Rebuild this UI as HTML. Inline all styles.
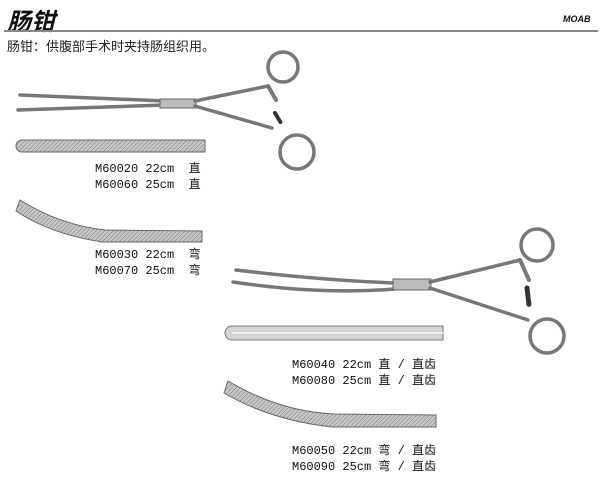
<!DOCTYPE html>
<html><head><meta charset="utf-8"><style>
html,body{margin:0;padding:0;background:#fff;}
body{width:600px;height:481px;overflow:hidden;position:relative;font-family:"Liberation Sans","Noto Sans CJK SC",sans-serif;}
.t{position:absolute;white-space:pre;font-family:"Liberation Mono","Noto Sans CJK SC",monospace;font-size:12px;line-height:16px;color:#111;}
</style></head><body>
<div style="position:absolute;left:7px;top:2px;font-size:24px;font-weight:bold;font-style:italic;color:#111;font-family:'Noto Sans CJK SC',sans-serif;">肠钳</div>
<div style="position:absolute;left:563px;top:14px;font-size:9px;font-weight:bold;font-style:italic;color:#111;">MOAB</div>
<div style="position:absolute;left:4px;top:30px;width:594px;height:2px;background:#888;"></div>
<div style="position:absolute;left:7px;top:36px;font-size:13px;color:#222;font-family:'Noto Sans CJK SC',sans-serif;">肠钳：供腹部手术时夹持肠组织用。</div>
<svg width="600" height="481" style="position:absolute;left:0;top:0">
<defs>
<pattern id="h" width="3" height="3" patternUnits="userSpaceOnUse" patternTransform="rotate(45)"><rect width="3" height="3" fill="#c8c8c8"/><line x1="0" y1="0" x2="0" y2="3" stroke="#777" stroke-width="1"/></pattern>
</defs>
<g fill="none" stroke="#777" stroke-linecap="round">
<!-- forceps 1 -->
<path d="M20 95 L165 101" stroke-width="3.5"/>
<path d="M18 110 L165 105" stroke-width="3.5"/>
<rect x="160" y="99" width="36" height="9" fill="#bbb" stroke="#666" stroke-width="1"/>
<path d="M195 101 L268 86" stroke-width="3.5"/>
<path d="M268 86 L276 100" stroke-width="4"/>
<circle cx="283" cy="67" r="15" stroke-width="3.5"/>
<path d="M195 106 L272 128" stroke-width="3.5"/>
<circle cx="297" cy="152" r="17" stroke-width="3.5"/>
<path d="M275 113 L281 123" stroke="#333" stroke-width="4" stroke-dasharray="1.5 1.5"/>
<!-- forceps 2 -->
<path d="M236 270 Q320 280 395 283" stroke-width="3.5"/>
<path d="M233 282 Q320 295 395 289" stroke-width="3.5"/>
<rect x="393" y="279" width="38" height="11" fill="#bbb" stroke="#666" stroke-width="1"/>
<path d="M430 282 L520 260" stroke-width="3.5"/>
<path d="M520 260 L529 280" stroke-width="4"/>
<circle cx="537" cy="245" r="16" stroke-width="3.5"/>
<path d="M430 288 L528 320" stroke-width="3.5"/>
<circle cx="547" cy="336" r="17" stroke-width="3.5"/>
<path d="M527 288 L529 305" stroke="#333" stroke-width="5" stroke-dasharray="1.5 1.5"/>
</g>
<!-- jaw bars -->
<path d="M22 140 H205 V152 H22 A6 6 0 0 1 22 140 Z" fill="url(#h)" stroke="#666"/>
<path d="M20 200 Q60 225 105 230 L202 231 L202 242 L102 242 Q50 234 16 211 Z" fill="url(#h)" stroke="#666"/>
<path d="M232 326 H443 V340 H232 A7 7 0 0 1 232 326 Z" fill="#d4d4d4" stroke="#777"/>
<line x1="232" y1="333" x2="443" y2="333" stroke="#eee" stroke-width="2"/>
<path d="M228 381 Q280 412 335 414 L436 415 L436 427 L332 427 Q270 420 224 393 Z" fill="url(#h)" stroke="#666"/>
</svg>
<div class="t" style="left:95px;top:161px;">M60020 22cm  直
M60060 25cm  直</div>
<div class="t" style="left:95px;top:247px;">M60030 22cm  弯
M60070 25cm  弯</div>
<div class="t" style="left:292px;top:357px;">M60040 22cm 直 / 直齿
M60080 25cm 直 / 直齿</div>
<div class="t" style="left:292px;top:443px;">M60050 22cm 弯 / 直齿
M60090 25cm 弯 / 直齿</div>
</body></html>
